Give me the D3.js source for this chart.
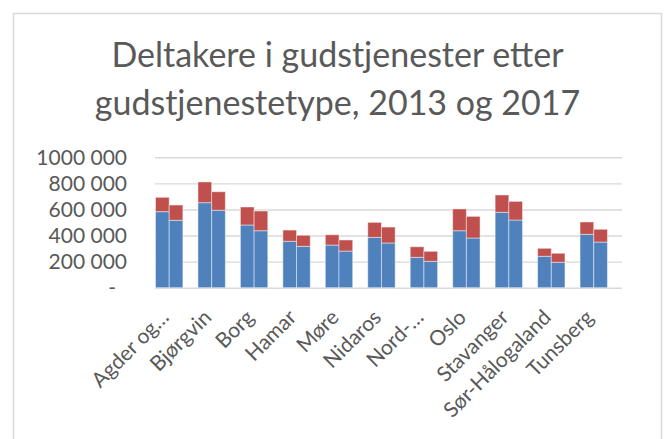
<!DOCTYPE html>
<html>
<head>
<meta charset="utf-8">
<script src="https://cdn.jsdelivr.net/npm/d3@7"></script>
<style>
    body { margin: 0; background: #fff; }
    text { font-family: Lato, "Open Sans", sans-serif; fill: #595959; }
</style>
</head>
<body>
<div id="chart"></div>
<script>
'use strict';

// Stacked columns, two per diocese: 2013 (left) and 2017 (right).
// Lower part (blue) and upper part (red) are the two service types.
var categories = ['Agder og…', 'Bjørgvin', 'Borg', 'Hamar', 'Møre', 'Nidaros',
                  'Nord-…', 'Oslo', 'Stavanger', 'Sør-Hålogaland', 'Tunsberg'];
var years = ['2013', '2017'];

var lower2013 = [583000, 652000, 481000, 356000, 327000, 386000, 233000, 437000, 578000, 241000, 409000];
var upper2013 = [110000, 159000, 138000,  86000,  79000, 115000,  81000, 167000, 133000,  61000,  95000];
var lower2017 = [517000, 594000, 437000, 317000, 281000, 343000, 202000, 381000, 519000, 195000, 350000];
var upper2017 = [117000, 142000, 151000,  85000,  85000, 122000,  77000, 166000, 143000,  69000,  98000];

var yTicks = [0, 200000, 400000, 600000, 800000, 1000000];
var yTickLabels = ['-', '200 000', '400 000', '600 000', '800 000', '1000 000'];

var titleLines = ['Deltakere i gudstjenester etter', 'gudstjenestetype, 2013 og 2017'];

var width = 665,
    height = 439,
    plot = {left: 155, right: 622, top: 157.3, bottom: 287.7},
    colors = {lower: '#4f81bd', upper: '#c0504d'};

var rows = [];
categories.forEach(function (c, i) {
    rows.push({cat: c, year: '2013', lower: lower2013[i], upper: upper2013[i]});
    rows.push({cat: c, year: '2017', lower: lower2017[i], upper: upper2017[i]});
});

var svg = d3.select('#chart').append('svg')
            .attr('width', width)
            .attr('height', height);

svg.append('rect')
   .attr('x', 13.5)
   .attr('y', 13.5)
   .attr('width', 648)
   .attr('height', 460)
   .attr('fill', '#fff')
   .attr('stroke', '#d9d9d9')
   .attr('stroke-width', 1.5);

svg.append('g')
   .selectAll('text')
   .data(titleLines)
   .enter()
   .append('text')
   .attr('x', 337.5)
   .attr('y', function (d, i) { return 67 + i * 47.5; })
   .attr('text-anchor', 'middle')
   .style('font-size', '34px')
   .style('font-weight', 400)
   .text(function (d) { return d; });

var x = d3.scaleBand()
          .domain(categories)
          .range([plot.left, plot.right]);

var xYear = d3.scaleBand()
              .domain(years)
              .range([0.5, 0.5 + x.bandwidth() * 0.645]);

var y = d3.scaleLinear()
          .domain([0, 1000000])
          .range([plot.bottom, plot.top]);

var yAxis = d3.axisLeft(y)
              .tickValues(yTicks)
              .tickFormat(function (d, i) { return yTickLabels[i]; })
              .tickSizeInner(-(plot.right - plot.left))
              .tickSizeOuter(0)
              .tickPadding(28);

var gy = svg.append('g')
            .attr('transform', 'translate(' + plot.left + ',0)')
            .call(yAxis);

gy.select('.domain').remove();
gy.selectAll('.tick line')
  .attr('stroke', '#d9d9d9')
  .attr('stroke-width', 1.4);
gy.selectAll('.tick text')
  .style('font-size', '21px')
  .attr('fill', '#595959')
  .attr('dx', function (d) { return d === 0 ? -11 : 0; });

var stack = d3.stack().keys(['lower', 'upper']);
var layers = stack(rows);

svg.append('g')
   .selectAll('g')
   .data(layers)
   .enter()
   .append('g')
   .attr('fill', function (d) { return colors[d.key]; })
   .selectAll('rect')
   .data(function (d) { return d; })
   .enter()
   .append('rect')
   .attr('x', function (d) { return x(d.data.cat) + xYear(d.data.year); })
   .attr('width', xYear.bandwidth())
   .attr('y', function (d) { return y(d[1]); })
   .attr('height', function (d) { return y(d[0]) - y(d[1]); })
   .attr('stroke', '#fff')
   .attr('stroke-opacity', 0.45)
   .attr('stroke-width', 1);

var xAxis = d3.axisBottom(x)
              .tickSize(0)
              .tickPadding(0);

var gx = svg.append('g')
            .attr('transform', 'translate(0,' + plot.bottom + ')')
            .call(xAxis);

gx.select('.domain').remove();
gx.selectAll('.tick text')
  .attr('y', 0)
  .attr('dy', 0)
  .attr('text-anchor', 'end')
  .attr('transform', 'translate(-6,31) rotate(-45)')
  .attr('fill', '#595959')
  .style('font-size', '21px');
</script>
</body>
</html>
